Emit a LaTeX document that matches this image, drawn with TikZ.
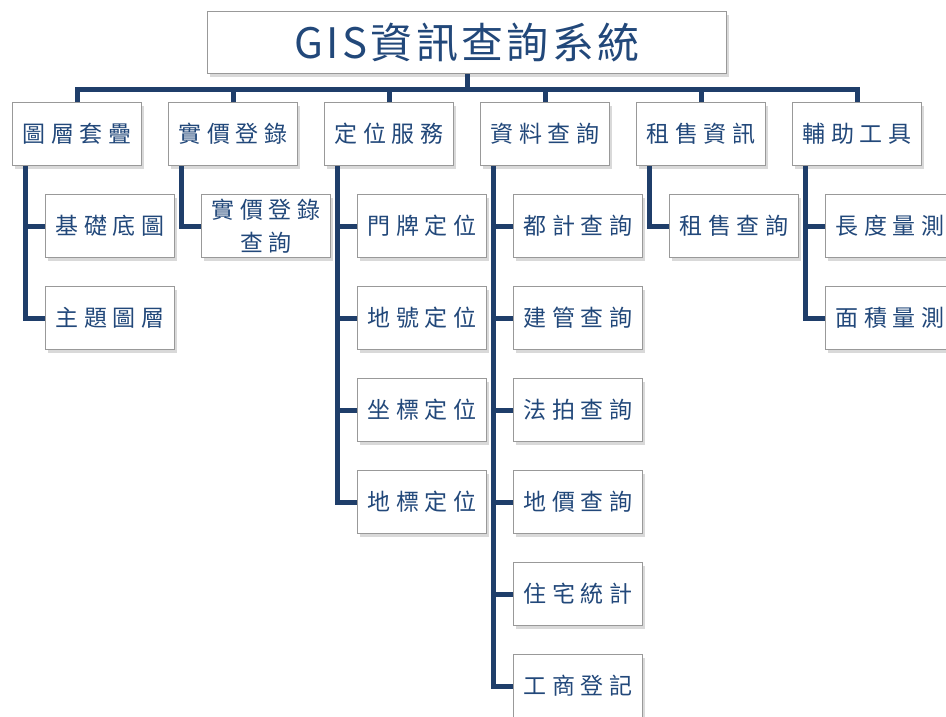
\documentclass[tikz,border=0pt]{standalone}
\usepackage{fontspec}
\newfontfamily\cjk[LetterSpace=24]{Noto Sans CJK TC}
\newfontfamily\cjktitle[LetterSpace=8]{Noto Sans CJK TC}
\definecolor{navy}{RGB}{31, 62, 106}
\definecolor{ink}{RGB}{34, 72, 122}
\usepackage{tikz}
\usetikzlibrary{positioning}
\usetikzlibrary{shadows}

\begin{document}
\begin{tikzpicture}[
      x=1pt, y=1pt,
      box/.style={rectangle, draw=black!40, fill=white, line width=1pt,
                  drop shadow={shadow xshift=2pt, shadow yshift=-3pt, opacity=0.3},
                  text=ink, align=center, inner sep=0pt},
      head/.style={box, minimum width=519pt, minimum height=62pt,
                   font=\cjktitle\fontsize{42}{48}\selectfont},
      cat/.style={box, minimum width=129pt, minimum height=63pt,
                  font=\cjk\fontsize{23}{33}\selectfont},
      item/.style={cat},
      link/.style={navy, line width=5pt},
      node distance=28pt
    ]
      \useasboundingbox (0,0) rectangle (946,-716);

      % title and first level
      \node [head] (title) at (467,-42.5) {GIS資訊查詢系統};
      \node [cat] (layer) at (77,-134) {圖層套疊};
      \node [cat, right=26pt of layer] (price) {實價登錄};
      \node [cat, right=26pt of price] (locate) {定位服務};
      \node [cat, right=26pt of locate] (query) {資料查詢};
      \node [cat, right=26pt of query] (rent) {租售資訊};
      \node [cat, right=26pt of rent] (tools) {輔助工具};

      % second level
      \node [item, below right=28pt and 33pt of layer.south west] (basemap) {基礎底圖};
      \node [item, below=of basemap] (theme) {主題圖層};

      \node [item, below right=28pt and 33pt of price.south west] (pricequery) {實價登錄\\查詢};

      \node [item, below right=28pt and 33pt of locate.south west] (doorplate) {門牌定位};
      \node [item, below=of doorplate] (landno) {地號定位};
      \node [item, below=of landno] (coord) {坐標定位};
      \node [item, below=of coord] (landmark) {地標定位};

      \node [item, below right=28pt and 33pt of query.south west] (urban) {都計查詢};
      \node [item, below=of urban] (building) {建管查詢};
      \node [item, below=of building] (auction) {法拍查詢};
      \node [item, below=of auction] (landprice) {地價查詢};
      \node [item, below=of landprice] (housing) {住宅統計};
      \node [item, below=of housing] (business) {工商登記};

      \node [item, below right=28pt and 33pt of rent.south west] (rentquery) {租售查詢};

      \node [item, below right=28pt and 33pt of tools.south west] (length) {長度量測};
      \node [item, below=of length] (area) {面積量測};

      % connectors
      \draw [link] (title.south) -- ++(0,-15) coordinate (bus);
      \draw [link] (layer.north) |- (bus) -| (tools.north);
      \foreach \n in {price, locate, query, rent}
        \draw [link] (\n.north) -- (\n.north |- bus);

      \foreach \p/\c in {layer/basemap, layer/theme, price/pricequery,
                         locate/doorplate, locate/landno, locate/coord, locate/landmark,
                         query/urban, query/building, query/auction, query/landprice,
                         query/housing, query/business,
                         rent/rentquery, tools/length, tools/area}
        \draw [link] ([xshift=13pt]\p.south west) |- (\c.west);
    \end{tikzpicture}
\end{document}
